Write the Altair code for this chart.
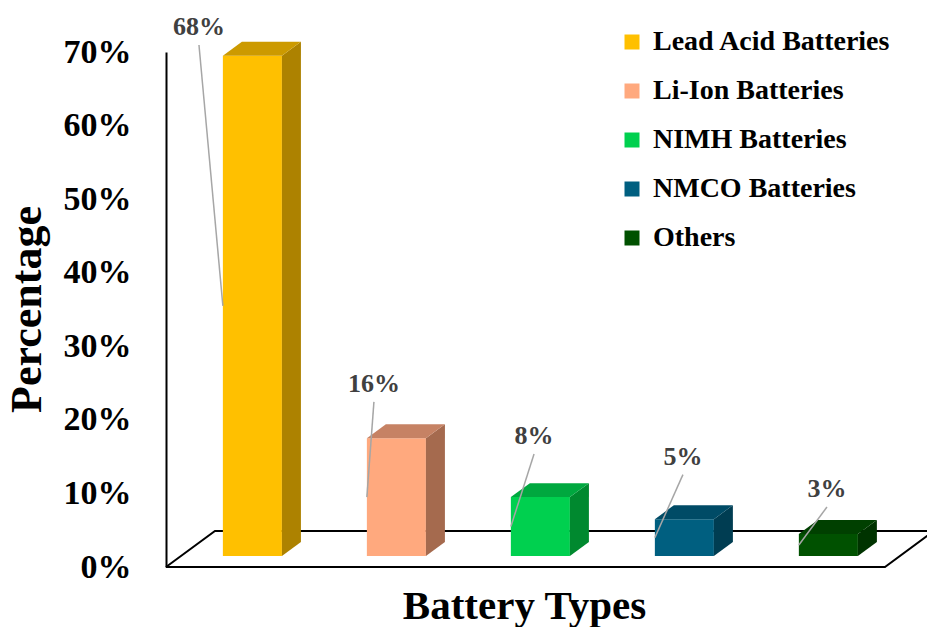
import altair as alt
import pandas as pd

# ---- data -----------------------------------------------------------------
battery_types = ["Lead Acid Batteries", "Li-Ion Batteries", "NIMH Batteries",
                 "NMCO Batteries", "Others"]
shares = [68, 16, 8, 5, 3]
y_ticks = [0, 10, 20, 30, 40, 50, 60, 70]

# ---- styling --------------------------------------------------------------
front_colors = ["#FFC000", "#FFA97E", "#00D04F", "#005F80", "#005100"]
top_colors = ["#CC9A00", "#C68264", "#00A83F", "#004B66", "#004000"]
side_colors = ["#AD8200", "#A56A4E", "#00892F", "#003D52", "#003300"]

# where each value label sits: horizontal shift from the bar centre (bar steps)
# and rise above the bar top (percentage points)
label_shift = [-0.371, -0.156, -0.044, -0.01, -0.01]
label_rise = [2.8, 6.3, 7.2, 7.4, 5.0]

SERIF = "Liberation Serif"
HALF = 0.205      # half bar width, in bar steps
DX, DY = 0.132, 1.9   # depth of the 3-D boxes (x in steps, y in % points)
LIFT = 1.5        # bars stand slightly inside the floor
FLOOR_DX, FLOOR_DY = 0.34, 4.9
X_MIN, X_MAX = -0.6, 4.678
FLOOR_END = 4.393

xscale = alt.Scale(domain=[X_MIN, X_MAX], nice=False, zero=False)
yscale = alt.Scale(domain=[0, 70], nice=False, zero=False)

x_axis = alt.Axis(domain=False, ticks=False, labels=False, grid=False,
                  title="Battery Types", titleFont=SERIF, titleFontSize=41,
                  titleFontWeight="bold", titleColor="black",
                  titleX=358, titleY=51, titleAlign="center",
                  titleBaseline="alphabetic")
y_axis = alt.Axis(values=y_ticks, labelExpr="datum.value + '%'",
                  domain=True, domainColor="black", domainWidth=2,
                  ticks=False, grid=False, labelPadding=35,
                  labelFont=SERIF, labelFontSize=34, labelFontWeight="bold",
                  labelColor="black",
                  title="Percentage", titleFont=SERIF, titleFontSize=44,
                  titleFontWeight="bold", titleColor="black",
                  titleAngle=270, titleX=-139, titleY=257,
                  titleAlign="center", titleBaseline="middle")

# ---- tables built from the arrays ------------------------------------------
bars = pd.DataFrame({
    "type": battery_types,
    "share": shares,
    "pos": range(len(shares)),
})
bars["x"] = bars["pos"] - HALF
bars["x2"] = bars["pos"] + HALF
bars["base"] = LIFT
bars["top"] = LIFT + bars["share"]
bars["label"] = bars["share"].astype(str) + "%"
bars["lx"] = bars["pos"] + pd.Series(label_shift)
bars["ly"] = bars["top"] + pd.Series(label_rise)
bars["lead_y2"] = bars["ly"] - 1.35
bars["lead_y"] = LIFT + bars["share"] / 2

faces = []
for i, (v, tc, sc) in enumerate(zip(shares, top_colors, side_colors)):
    xl, xr, t = i - HALF, i + HALF, LIFT + v
    # right-hand side of the box
    faces += [
        {"face": f"s{i}", "fill": sc, "x": xr, "hi": t, "lo": LIFT},
        {"face": f"s{i}", "fill": sc, "x": xr + DX, "hi": t + DY, "lo": LIFT + DY},
    ]
    # lid of the box
    faces += [
        {"face": f"t{i}", "fill": tc, "x": xl, "hi": t, "lo": t},
        {"face": f"t{i}", "fill": tc, "x": xl + DX, "hi": t + DY, "lo": t},
        {"face": f"t{i}", "fill": tc, "x": xr, "hi": t + DY, "lo": t},
        {"face": f"t{i}", "fill": tc, "x": xr + DX, "hi": t + DY, "lo": t + DY},
    ]
faces = pd.DataFrame(faces)

floor = pd.DataFrame({
    "k": [0, 1, 2, 3, 4],
    "x": [X_MIN, FLOOR_END, FLOOR_END + FLOOR_DX, X_MIN + FLOOR_DX, X_MIN],
    "y": [0, 0, FLOOR_DY, FLOOR_DY, 0],
})

# ---- layers ------------------------------------------------------------------
floor_layer = alt.Chart(floor).mark_line(color="black", strokeWidth=2).encode(
    x=alt.X("x:Q", scale=xscale, axis=x_axis),
    y=alt.Y("y:Q", scale=yscale, axis=y_axis),
    order="k:Q",
)

front_layer = alt.Chart(bars).mark_rect().encode(
    x=alt.X("x:Q", scale=xscale, axis=x_axis),
    x2="x2:Q",
    y=alt.Y("top:Q", scale=yscale, axis=y_axis),
    y2="base:Q",
    color=alt.Color(
        "type:N",
        scale=alt.Scale(domain=battery_types, range=front_colors),
        legend=alt.Legend(
            title=None, orient="none", legendX=452, legendY=-24,
            symbolType="square", symbolSize=225, symbolStrokeWidth=0,
            labelFont=SERIF, labelFontSize=28, labelFontWeight="bold",
            labelColor="black", labelOffset=7, rowPadding=21,
            labelLimit=500,
        ),
    ),
)

face_layer = alt.Chart(faces).mark_area(strokeWidth=0).encode(
    x=alt.X("x:Q", scale=xscale, axis=x_axis),
    y=alt.Y("hi:Q", scale=yscale, axis=y_axis),
    y2="lo:Q",
    fill=alt.Fill("fill:N", scale=None),
    detail="face:N",
)

leader_layer = alt.Chart(bars).mark_rule(color="#A6A6A6", strokeWidth=1.5).encode(
    x=alt.X("x:Q", scale=xscale, axis=x_axis),
    y=alt.Y("lead_y:Q", scale=yscale, axis=y_axis),
    x2="lx:Q",
    y2="lead_y2:Q",
)

label_layer = alt.Chart(bars).mark_text(
    font=SERIF, fontSize=26, fontWeight="bold", color="#404040",
    align="center", baseline="alphabetic",
).encode(
    x=alt.X("lx:Q", scale=xscale, axis=x_axis),
    y=alt.Y("ly:Q", scale=yscale, axis=y_axis),
    text="label:N",
)

chart = alt.layer(
    floor_layer, front_layer, face_layer, leader_layer, label_layer
).properties(
    width=760, height=515,
    autosize=alt.AutoSizeParams(type="none"),
    padding={"left": 166, "top": 52, "right": 1, "bottom": 60},
    background="white",
).configure_view(stroke=None)

chart.save("out.html", embed_options={"renderer": "svg", "actions": False})
